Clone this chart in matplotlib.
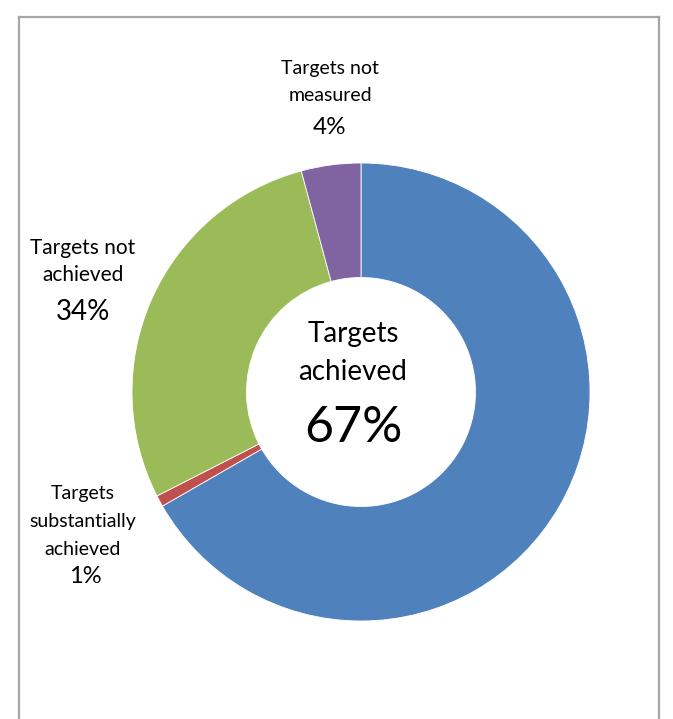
import matplotlib
matplotlib.use("Agg")
import matplotlib.pyplot as plt
from matplotlib.lines import Line2D

# ---- data ----
categories = ["Targets achieved", "Targets substantially achieved",
              "Targets not achieved", "Targets not measured"]
values = [66.7, 0.8, 28.3, 4.2]
pct_labels = ["67%", "1%", "34%", "4%"]
colors = ["#4F81BD", "#C0504D", "#9BBB59", "#8064A2"]

W, H = 673, 719
DPI = 100
plt.rcParams['font.family'] = ['Lato', 'DejaVu Sans']

fig = plt.figure(figsize=(W / DPI, H / DPI), dpi=DPI)
fig.patch.set_facecolor("white")

# donut geometry (pixels)
cx, cy, r = 361, 392, 229
ax = fig.add_axes([(cx - r) / W, (H - cy - r) / H, 2 * r / W, 2 * r / H])
ax.pie(values, colors=colors, startangle=90, counterclock=False, radius=1,
       wedgeprops=dict(width=0.5, edgecolor="white", linewidth=0.6))
ax.set_xlim(-1, 1)
ax.set_ylim(-1, 1)
ax.set_aspect("equal")
ax.axis("off")

# outer frame (left, top, right)
fc = "#A6A6A6"
def fx(x): return x / W
def fy(y): return 1 - y / H
fig.add_artist(Line2D([fx(19), fx(19)], [fy(17), fy(H + 5)], color=fc, lw=1.6, transform=fig.transFigure))
fig.add_artist(Line2D([fx(19), fx(659)], [fy(17), fy(17)], color=fc, lw=1.6, transform=fig.transFigure))
fig.add_artist(Line2D([fx(659), fx(659)], [fy(17), fy(H + 5)], color=fc, lw=1.6, transform=fig.transFigure))

def put(x, y, s, size):
    fig.text(fx(x), fy(y), s, ha="center", va="baseline", fontsize=size, color="black")

# Targets not measured
put(330, 74, "Targets not", 14)
put(330, 101, "measured", 14)
put(330, 134, pct_labels[3], 17.5)

# Targets not achieved
put(83, 254, "Targets not", 15)
put(83, 281, "achieved", 15)
put(83, 320, pct_labels[2], 20)

# Targets substantially achieved
put(83, 499, "Targets", 14)
put(83, 527, "substantially", 14)
put(83, 555, "achieved", 14)
put(85, 583, pct_labels[1], 17)

# center
put(353, 342, "Targets", 20)
put(353, 380, "achieved", 20)
put(353, 442, pct_labels[0], 36)

fig.savefig("out.png", dpi=DPI, facecolor="white")
